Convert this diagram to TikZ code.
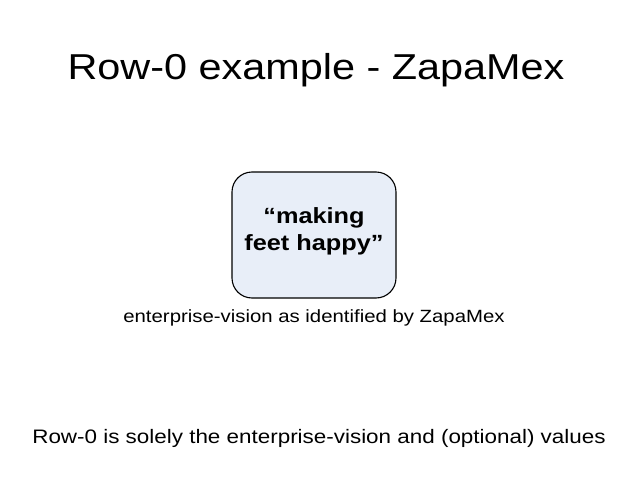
\documentclass[tikz,border=0pt]{standalone}
\usepackage{fontspec}
\setmainfont{Liberation Sans}
\usepackage{xcolor}
\usetikzlibrary{positioning}
\definecolor{visionfill}{HTML}{E8EEF8}

\begin{document}
\begin{tikzpicture}[x=1pt,y=1pt,
  wide/.style={xscale=1.15,transform shape,inner sep=0pt},
  visionbox/.style={draw=black,line width=1.1pt,fill=visionfill,rounded corners=20pt,
    minimum width=164pt,minimum height=126pt}]
\useasboundingbox (0,0) rectangle (638,-479);
\node[wide,font=\fontsize{36}{40}\selectfont] (title) at (316,-70) {Row-0 example - ZapaMex};
\node[visionbox] (vision) at (314,-235) {};
\node[wide,align=center,font=\fontsize{22}{27}\bfseries\selectfont] (visiontext) at (314,-231) {“making\\feet happy”};
\node[wide,font=\fontsize{17.7}{20}\selectfont] (caption) at (314,-318) {enterprise-vision as identified by ZapaMex};
\node[wide,font=\fontsize{19.5}{22}\selectfont] (summary) at (319,-438) {Row-0 is solely the enterprise-vision and (optional) values};
\end{tikzpicture}
\end{document}
